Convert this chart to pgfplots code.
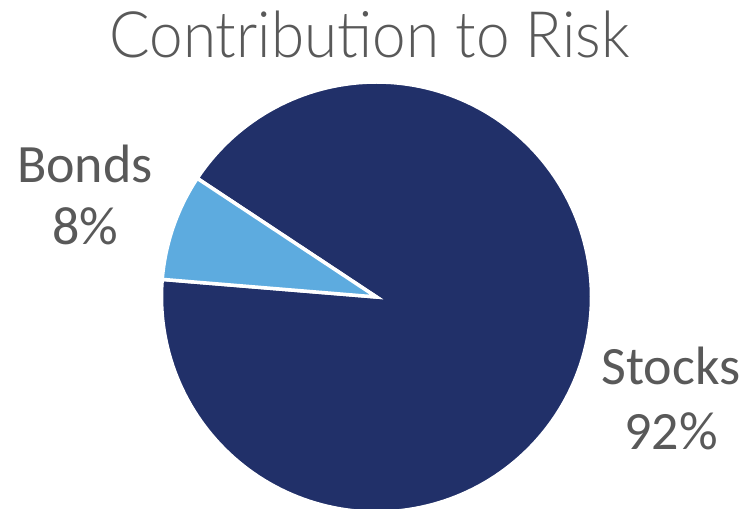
\documentclass[border=0pt]{standalone}
\usepackage{fontspec}
\setmainfont{Carlito}
\newfontfamily\titlefont{Lato Light}
\usepackage{pgfplots}
\pgfplotsset{compat=1.18}
\definecolor{navy}{HTML}{213069}
\definecolor{skyblue}{HTML}{5DABDF}
\definecolor{labelgray}{HTML}{595959}

% pie geometry (pixel units of the 755x509 picture, y up)
\def\cx{376.5}
\def\cy{212}
\def\r{215}
% shares in percent
\def\bonds{8}
\def\stocks{92}
\def\start{146.5}
\pgfmathsetmacro{\mid}{\start+3.6*\bonds}
\pgfmathsetmacro{\stop}{\mid+3.6*\stocks}

\begin{document}
\begin{tikzpicture}
\begin{axis}[
    width=755bp, height=509bp, scale only axis,
    xmin=0, xmax=755, ymin=0, ymax=509,
    hide axis, clip=true,
]
\addplot[fill=navy, draw=white, line width=3.5bp, domain=\mid:\stop, samples=200]
    ({\cx+\r*cos(x)}, {\cy+\r*sin(x)}) -- (axis cs:\cx,\cy) -- cycle;
\addplot[fill=skyblue, draw=white, line width=3.5bp, domain=\start:\mid, samples=30]
    ({\cx+\r*cos(x)}, {\cy+\r*sin(x)}) -- (axis cs:\cx,\cy) -- cycle;

\node[anchor=base, text=labelgray, font=\titlefont\fontsize{64bp}{72bp}\selectfont, xscale=0.94]
    at (axis cs:369.5,451) {Contribution to Risk};
\node[anchor=base, text=labelgray, font=\fontsize{54bp}{65bp}\selectfont]
    at (axis cs:85,326) {Bonds};
\node[anchor=base, text=labelgray, font=\fontsize{54bp}{65bp}\selectfont]
    at (axis cs:85,264) {8\%};
\node[anchor=base, text=labelgray, font=\fontsize{54bp}{65bp}\selectfont]
    at (axis cs:671,124) {Stocks};
\node[anchor=base, text=labelgray, font=\fontsize{54bp}{65bp}\selectfont]
    at (axis cs:671,59) {92\%};
\end{axis}
\pgfresetboundingbox
\useasboundingbox (current axis.south west) rectangle (current axis.north east);
\end{tikzpicture}
\end{document}
